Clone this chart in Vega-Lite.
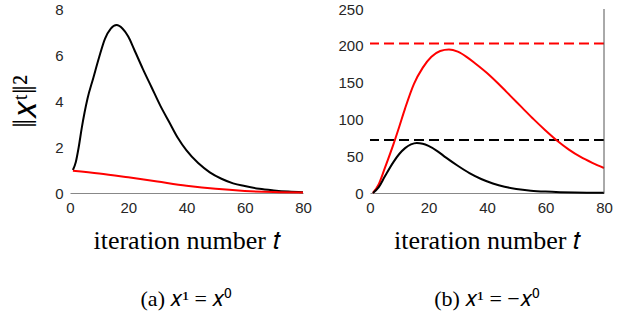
{
  "$schema": "https://vega.github.io/schema/vega-lite/v6.json",
  "background": "white",
  "padding": {"left": 9, "top": 2, "right": 5, "bottom": 5},
  "spacing": 25,
  "config": {
    "view": {"stroke": null},
    "axis": {"grid": false, "ticks": false, "labelFlush": false, "labelFont": "Liberation Sans", "labelFontSize": 15, "labelColor": "#262626", "labelPadding": 7, "labelOverlap": false, "domainColor": "#888", "titleFont": "Liberation Serif", "titleFontSize": 26, "titleFontWeight": "normal", "titleColor": "#000"},
    "title": {"font": "Liberation Serif", "fontSize": 22, "fontWeight": "normal", "color": "#000"}
  },
  "datasets": {
    "curves": [
      {"p": "a", "s": "black", "t": 1, "v": 1.0},
      {"p": "a", "s": "black", "t": 2, "v": 1.35},
      {"p": "a", "s": "black", "t": 3, "v": 2.0},
      {"p": "a", "s": "black", "t": 4, "v": 2.8},
      {"p": "a", "s": "black", "t": 5, "v": 3.5},
      {"p": "a", "s": "black", "t": 6, "v": 4.1},
      {"p": "a", "s": "black", "t": 8, "v": 5.0},
      {"p": "a", "s": "black", "t": 10, "v": 5.9},
      {"p": "a", "s": "black", "t": 12, "v": 6.7},
      {"p": "a", "s": "black", "t": 14, "v": 7.15},
      {"p": "a", "s": "black", "t": 16, "v": 7.3},
      {"p": "a", "s": "black", "t": 18, "v": 7.15},
      {"p": "a", "s": "black", "t": 20, "v": 6.8},
      {"p": "a", "s": "black", "t": 22, "v": 6.25},
      {"p": "a", "s": "black", "t": 25, "v": 5.4},
      {"p": "a", "s": "black", "t": 28, "v": 4.6},
      {"p": "a", "s": "black", "t": 31, "v": 3.8},
      {"p": "a", "s": "black", "t": 34, "v": 3.1},
      {"p": "a", "s": "black", "t": 37, "v": 2.4},
      {"p": "a", "s": "black", "t": 40, "v": 1.85},
      {"p": "a", "s": "black", "t": 44, "v": 1.3},
      {"p": "a", "s": "black", "t": 48, "v": 0.9},
      {"p": "a", "s": "black", "t": 52, "v": 0.62},
      {"p": "a", "s": "black", "t": 56, "v": 0.42},
      {"p": "a", "s": "black", "t": 60, "v": 0.3},
      {"p": "a", "s": "black", "t": 65, "v": 0.18},
      {"p": "a", "s": "black", "t": 70, "v": 0.11},
      {"p": "a", "s": "black", "t": 75, "v": 0.06},
      {"p": "a", "s": "black", "t": 80, "v": 0.03},
      {"p": "a", "s": "red", "t": 1, "v": 0.97},
      {"p": "a", "s": "red", "t": 10, "v": 0.85},
      {"p": "a", "s": "red", "t": 20, "v": 0.68},
      {"p": "a", "s": "red", "t": 30, "v": 0.5},
      {"p": "a", "s": "red", "t": 40, "v": 0.32},
      {"p": "a", "s": "red", "t": 50, "v": 0.18},
      {"p": "a", "s": "red", "t": 60, "v": 0.09},
      {"p": "a", "s": "red", "t": 70, "v": 0.04},
      {"p": "a", "s": "red", "t": 80, "v": 0.02},
      {"p": "b", "s": "red", "t": 1, "v": 0},
      {"p": "b", "s": "red", "t": 3, "v": 12},
      {"p": "b", "s": "red", "t": 5, "v": 33},
      {"p": "b", "s": "red", "t": 8, "v": 66},
      {"p": "b", "s": "red", "t": 10, "v": 90},
      {"p": "b", "s": "red", "t": 12, "v": 115},
      {"p": "b", "s": "red", "t": 15, "v": 148},
      {"p": "b", "s": "red", "t": 18, "v": 170},
      {"p": "b", "s": "red", "t": 21, "v": 185},
      {"p": "b", "s": "red", "t": 24, "v": 193},
      {"p": "b", "s": "red", "t": 27, "v": 195},
      {"p": "b", "s": "red", "t": 30, "v": 192},
      {"p": "b", "s": "red", "t": 33, "v": 185},
      {"p": "b", "s": "red", "t": 36, "v": 176},
      {"p": "b", "s": "red", "t": 40, "v": 163},
      {"p": "b", "s": "red", "t": 44, "v": 148},
      {"p": "b", "s": "red", "t": 48, "v": 132},
      {"p": "b", "s": "red", "t": 52, "v": 116},
      {"p": "b", "s": "red", "t": 56, "v": 100},
      {"p": "b", "s": "red", "t": 60, "v": 85},
      {"p": "b", "s": "red", "t": 64, "v": 71},
      {"p": "b", "s": "red", "t": 68, "v": 59},
      {"p": "b", "s": "red", "t": 72, "v": 49},
      {"p": "b", "s": "red", "t": 76, "v": 41},
      {"p": "b", "s": "red", "t": 80, "v": 34},
      {"p": "b", "s": "black", "t": 1, "v": 0},
      {"p": "b", "s": "black", "t": 3, "v": 8},
      {"p": "b", "s": "black", "t": 5, "v": 22},
      {"p": "b", "s": "black", "t": 8, "v": 42},
      {"p": "b", "s": "black", "t": 10, "v": 53},
      {"p": "b", "s": "black", "t": 12, "v": 61},
      {"p": "b", "s": "black", "t": 14, "v": 66},
      {"p": "b", "s": "black", "t": 16, "v": 68},
      {"p": "b", "s": "black", "t": 18, "v": 67},
      {"p": "b", "s": "black", "t": 20, "v": 64},
      {"p": "b", "s": "black", "t": 23, "v": 57},
      {"p": "b", "s": "black", "t": 26, "v": 48},
      {"p": "b", "s": "black", "t": 30, "v": 37},
      {"p": "b", "s": "black", "t": 34, "v": 27},
      {"p": "b", "s": "black", "t": 38, "v": 19},
      {"p": "b", "s": "black", "t": 42, "v": 13},
      {"p": "b", "s": "black", "t": 46, "v": 8.5},
      {"p": "b", "s": "black", "t": 50, "v": 5.5},
      {"p": "b", "s": "black", "t": 55, "v": 3.2},
      {"p": "b", "s": "black", "t": 60, "v": 1.9},
      {"p": "b", "s": "black", "t": 65, "v": 1.1},
      {"p": "b", "s": "black", "t": 70, "v": 0.6},
      {"p": "b", "s": "black", "t": 80, "v": 0.2}
    ],
    "bounds": [
      {"s": "red", "v": 203},
      {"s": "black", "v": 72}
    ]
  },
  "hconcat": [
    {
      "width": 233,
      "height": 184,
      "title": {"text": "(a)  𝑥¹ = 𝑥⁰", "orient": "bottom", "offset": 36},
      "data": {"name": "curves"},
      "transform": [{"filter": "datum.p == 'a'"}],
      "mark": {"type": "line", "strokeWidth": 2, "interpolate": "monotone"},
      "encoding": {
        "x": {"field": "t", "type": "quantitative", "scale": {"domain": [0, 80], "nice": false}, "axis": {"values": [0, 20, 40, 60, 80], "title": "iteration number 𝑡", "titlePadding": 12}},
        "y": {"field": "v", "type": "quantitative", "scale": {"domain": [0, 8], "nice": false}, "axis": {"values": [0, 2, 4, 6, 8], "domain": false, "title": "‖𝑥ᵗ‖²", "titleFontSize": 33, "titlePadding": 12}},
        "color": {"field": "s", "type": "nominal", "scale": {"domain": ["black", "red"], "range": ["#000000", "#ff0000"]}, "legend": null},
        "detail": {"field": "s"}
      }
    },
    {
      "width": 234,
      "height": 184,
      "title": {"text": "(b)  𝑥¹ = −𝑥⁰", "orient": "bottom", "offset": 36},
      "layer": [
        {
          "data": {"name": "bounds"},
          "mark": {"type": "rule", "strokeWidth": 2, "strokeDash": [10, 5]},
          "encoding": {
            "y": {"field": "v", "type": "quantitative", "scale": {"domain": [0, 250], "nice": false}, "axis": {"values": [0, 50, 100, 150, 200, 250], "domain": false, "title": null}},
            "color": {"field": "s", "type": "nominal", "scale": {"domain": ["black", "red"], "range": ["#000000", "#ff0000"]}, "legend": null}
          }
        },
        {
          "data": {"name": "curves"},
          "transform": [{"filter": "datum.p == 'b'"}],
          "mark": {"type": "line", "strokeWidth": 2, "interpolate": "monotone"},
          "encoding": {
            "x": {"field": "t", "type": "quantitative", "scale": {"domain": [0, 80], "nice": false}, "axis": {"values": [0, 20, 40, 60, 80], "title": "iteration number 𝑡", "titlePadding": 12}},
            "y": {"field": "v", "type": "quantitative", "scale": {"domain": [0, 250], "nice": false}, "axis": {"values": [0, 50, 100, 150, 200, 250], "domain": false, "title": null}},
            "color": {"field": "s", "type": "nominal", "scale": {"domain": ["black", "red"], "range": ["#000000", "#ff0000"]}, "legend": null}
          }
        },
        {
          "data": {"values": [{"x": 80}]},
          "mark": {"type": "rule", "color": "#555", "strokeWidth": 1},
          "encoding": {"x": {"field": "x", "type": "quantitative", "scale": {"domain": [0, 80], "nice": false}}}
        }
      ]
    }
  ]
}
